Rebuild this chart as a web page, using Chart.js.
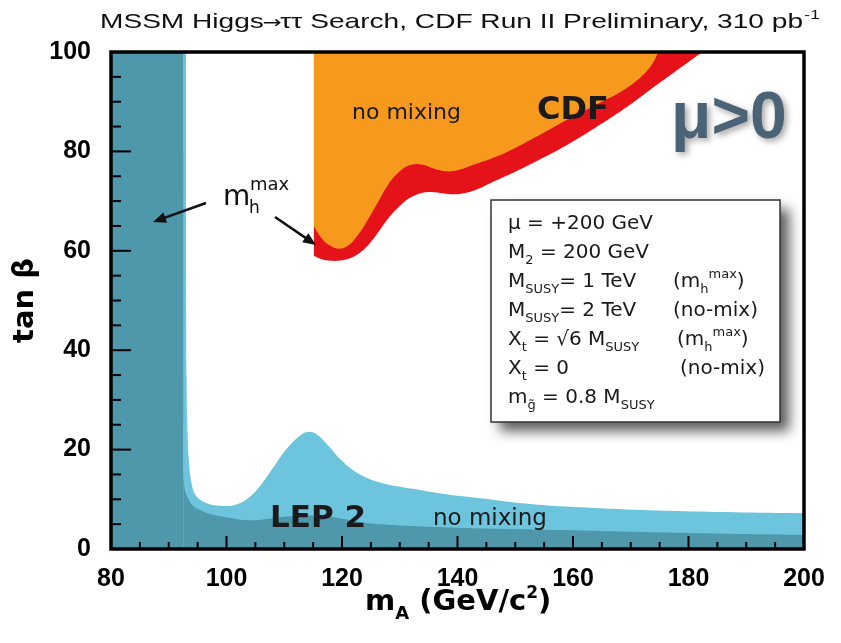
<!DOCTYPE html>
<html><head><meta charset="utf-8">
<script src="https://cdn.jsdelivr.net/npm/chart.js@4/dist/chart.umd.min.js"></script>
<style>html,body{margin:0;padding:0;background:#fff}#wrap{width:841px;height:643px;position:relative}</style>
</head><body><div id="wrap"><canvas id="c"></canvas></div>
<script>
// ---- axes ----
const xTickValues = [80, 100, 120, 140, 160, 180, 200];
const yTickValues = [0, 20, 40, 60, 80, 100];
const minorStep = 5;

// ---- LEP 2, m_h^max scenario (dark teal): vertical band + lower curve ----
const lepMaxBandX = [80, 92.5];
const lepMaxBandY = [100, 100];
const lepMaxX = [92.5, 92.5, 92.7, 93.3, 94.2, 95.5, 97, 99, 101, 103.5, 106, 108.5, 111, 113.5, 116, 118.5, 121, 124, 128, 133, 140, 150, 165, 180, 200];
const lepMaxY = [100, 20, 12.5, 10.3, 8.7, 7.8, 7.1, 6.6, 6.2, 5.8, 5.9, 6.3, 6.6, 6.8, 6.7, 6.4, 5.9, 5.3, 4.9, 4.6, 4.3, 4.0, 3.6, 3.2, 2.8];

// ---- LEP 2, no mixing (light blue) ----
const lepNoMixBandX = [80, 93.0];
const lepNoMixBandY = [100, 100];
const lepNoMixX = [93.0, 93.1, 93.25, 93.5, 94.0, 94.8, 96.6, 98.9, 101.2, 103.5, 105.8, 108.1, 110.4, 112.7, 114.2, 115.6, 117.4, 119.7, 122.5, 126.6, 132.3, 138, 144, 153, 164.7, 176.2, 188, 200];
const lepNoMixY = [100, 34, 24, 17.4, 13.0, 10.6, 9.2, 8.7, 8.8, 10, 12.7, 16.4, 20.1, 22.8, 23.6, 23.1, 21.1, 18.1, 15.4, 13.4, 12.1, 11.0, 10.2, 9.0, 8.2, 7.7, 7.4, 7.2];

// ---- CDF, m_h^max (red) lower boundary ----
const cdfMaxX = [115.1, 116.5, 118, 120, 122, 124, 126, 128, 130, 132, 134, 136, 138, 140, 143, 146, 150, 155, 160, 165, 170, 175, 180, 182.4];
const cdfMaxY = [59.0, 58.3, 58.0, 58.1, 58.8, 60.5, 63.3, 66.5, 69.0, 70.8, 71.7, 71.8, 71.5, 71.4, 72.2, 73.8, 75.9, 78.8, 82, 85.6, 89.5, 93.8, 98, 100];

// ---- CDF, no mixing (orange) lower boundary ----
const cdfNoMixX = [115.1, 116.5, 118, 119.5, 121, 122.5, 124, 126, 128, 130, 132, 134, 136, 138, 140, 143, 146, 150, 155, 160, 165, 168, 171, 173.5, 174.8];
const cdfNoMixY = [65, 62.5, 61, 60.4, 61, 62.8, 65.3, 69.3, 73.3, 76, 77.3, 77.3, 76.5, 76, 76.2, 77.4, 78.6, 80.7, 83.8, 87, 90, 91.8, 94.2, 97.2, 100];

const COL_DARK = '#4f97aa', COL_LIGHT = '#6cc5dd', COL_ORANGE = '#f7991d', COL_RED = '#e6121a';

const pts = (xs, ys) => xs.map((x, i) => ({x, y: ys[i]}));
function area(label, xs, ys, color, fill, tension, order) {
  return {label, data: pts(xs, ys), backgroundColor: color, borderColor: color, borderWidth: 0,
    pointRadius: 0, fill, tension, order, showLine: true};
}

function rich(ctx, x, y, parts, family) {
  for (const p of parts) {
    ctx.font = (p.b ? 'bold ' : '') + p.s + 'px ' + (family || '"DejaVu Sans"');
    ctx.fillText(p.t, x, y + (p.dy || 0));
    x += ctx.measureText(p.t).width;
  }
  return x;
}
function arrow(ctx, x1, y1, x2, y2) {
  const a = Math.atan2(y2 - y1, x2 - x1), L = 13, W = 5.5;
  ctx.beginPath(); ctx.moveTo(x1, y1); ctx.lineTo(x2 - L * 0.7 * Math.cos(a), y2 - L * 0.7 * Math.sin(a)); ctx.stroke();
  ctx.beginPath(); ctx.moveTo(x2, y2);
  ctx.lineTo(x2 - L * Math.cos(a) - W * Math.sin(a), y2 - L * Math.sin(a) + W * Math.cos(a));
  ctx.lineTo(x2 - L * Math.cos(a) + W * Math.sin(a), y2 - L * Math.sin(a) - W * Math.cos(a));
  ctx.closePath(); ctx.fill();
}

const decor = {
  id: 'decor',
  afterDatasetsDraw(chart) {
    const ctx = chart.ctx, a = chart.chartArea, xs = chart.scales.x, ys = chart.scales.y;
    ctx.save();
    ctx.strokeStyle = '#000'; ctx.lineWidth = 2;
    for (let v = xs.min; v <= xs.max; v += minorStep) {
      const px = xs.getPixelForValue(v), len = xTickValues.includes(v) ? 13 : 7;
      ctx.beginPath(); ctx.moveTo(px, a.bottom); ctx.lineTo(px, a.bottom - len); ctx.stroke();
    }
    for (let v = ys.min; v <= ys.max; v += minorStep) {
      const py = ys.getPixelForValue(v), len = yTickValues.includes(v) ? 20 : 10;
      ctx.beginPath(); ctx.moveTo(a.left, py); ctx.lineTo(a.left + len, py); ctx.stroke();
    }
    ctx.lineWidth = 3.5;
    ctx.strokeRect(a.left, a.top, a.right - a.left, a.bottom - a.top);
    ctx.restore();
  },
  afterDraw(chart) {
    const ctx = chart.ctx;
    ctx.save();
    ctx.textBaseline = 'alphabetic'; ctx.textAlign = 'left'; ctx.fillStyle = '#111';
    // title
    ctx.save(); ctx.translate(100, 28);
    const titleParts = [
      {t: 'MSSM Higgs', f: '"Liberation Sans"'},
      {t: '\u2192', f: '"DejaVu Sans"', sz: 17, dx: -1},
      {t: '\u03c4\u03c4 Search, CDF Run II Preliminary, 310 pb', f: '"Liberation Sans"'}
    ];
    let tw = 0;
    for (const p of titleParts) { ctx.font = (p.sz || 21) + 'px ' + p.f; tw += ctx.measureText(p.t).width + (p.dx || 0) * 2; }
    const sx = 703 / tw;
    ctx.scale(sx, 1);
    let cx = 0;
    for (const p of titleParts) {
      ctx.font = (p.sz || 21) + 'px ' + p.f; cx += (p.dx || 0);
      ctx.fillText(p.t, cx, 0); cx += ctx.measureText(p.t).width + (p.dx || 0);
    }
    ctx.font = '13px "Liberation Sans"'; ctx.fillText('-1', cx + 1, -9);
    ctx.restore();

    // region labels
    ctx.fillStyle = '#1a1a1a';
    ctx.font = '22px "DejaVu Sans"'; ctx.fillText('no mixing', 352, 119);
    ctx.font = 'bold 32px "DejaVu Sans"'; ctx.fillText('CDF', 537, 119);
    ctx.font = 'bold 31px "DejaVu Sans"'; ctx.fillText('LEP 2', 270, 527);
    ctx.font = '23px "DejaVu Sans"'; ctx.fillText('no mixing', 433, 525);

    // mu>0
    ctx.save();
    ctx.shadowColor = 'rgba(0,0,0,0.35)'; ctx.shadowBlur = 6; ctx.shadowOffsetX = 3; ctx.shadowOffsetY = 3;
    ctx.fillStyle = '#4b6376'; ctx.font = 'bold 66px "Liberation Sans"';
    ctx.fillText('\u03bc>0', 671, 138);
    ctx.restore();

    // m_h^max label + arrows
    ctx.fillStyle = '#111';
    rich(ctx, 223, 205, [{t: 'm', s: 28}]);
    rich(ctx, 249, 213, [{t: 'h', s: 17}]);
    rich(ctx, 250, 190, [{t: 'max', s: 18}]);
    ctx.strokeStyle = '#111'; ctx.lineWidth = 2.5;
    arrow(ctx, 206, 203, 153, 222);
    arrow(ctx, 275, 217, 316, 245);

    // parameter box
    const bx = 491, by = 200, bw = 289, bh = 222;
    ctx.save();
    ctx.shadowColor = 'rgba(0,0,0,0.65)'; ctx.shadowBlur = 12; ctx.shadowOffsetX = 9; ctx.shadowOffsetY = 9;
    ctx.fillStyle = '#fff'; ctx.fillRect(bx, by, bw, bh);
    ctx.restore();
    ctx.strokeStyle = '#333'; ctx.lineWidth = 1.5; ctx.strokeRect(bx, by, bw, bh);
    ctx.fillStyle = '#1a1a1a';
    const L = 508, b0 = 229, dl = 29, S = 20, s = 13;
    rich(ctx, L, b0, [{t: '\u03bc = +200 GeV', s: S}]);
    rich(ctx, L, b0 + dl, [{t: 'M', s: S}, {t: '2', s: s, dy: 6}, {t: ' = 200 GeV', s: S}]);
    rich(ctx, L, b0 + 2 * dl, [{t: 'M', s: S}, {t: 'SUSY', s: s, dy: 6}, {t: '= 1 TeV', s: S}]);
    rich(ctx, 673, b0 + 2 * dl, [{t: '(m', s: S}, {t: 'h', s: s, dy: 6}, {t: 'max', s: s, dy: -9}, {t: ')', s: S}]);
    rich(ctx, L, b0 + 3 * dl, [{t: 'M', s: S}, {t: 'SUSY', s: s, dy: 6}, {t: '= 2 TeV', s: S}]);
    rich(ctx, 673, b0 + 3 * dl, [{t: '(no-mix)', s: S}]);
    rich(ctx, L, b0 + 4 * dl, [{t: 'X', s: S}, {t: 't', s: s, dy: 6}, {t: ' = \u221a6 M', s: S}, {t: 'SUSY', s: s, dy: 6}]);
    rich(ctx, 677, b0 + 4 * dl, [{t: '(m', s: S}, {t: 'h', s: s, dy: 6}, {t: 'max', s: s, dy: -9}, {t: ')', s: S}]);
    rich(ctx, L, b0 + 5 * dl, [{t: 'X', s: S}, {t: 't', s: s, dy: 6}, {t: ' = 0', s: S}]);
    rich(ctx, 680, b0 + 5 * dl, [{t: '(no-mix)', s: S}]);
    rich(ctx, L, b0 + 6 * dl, [{t: 'm', s: S}, {t: 'g\u0303', s: s, dy: 6}, {t: ' = 0.8 M', s: S}, {t: 'SUSY', s: s, dy: 6}]);

    // x-axis title
    ctx.fillStyle = '#000';
    rich(ctx, 365, 610, [{t: 'm', s: 29, b: 1}, {t: 'A', s: 18, b: 1, dy: 9}, {t: ' (GeV/c', s: 29, b: 1}, {t: '2', s: 17, b: 1, dy: -12}, {t: ')', s: 29, b: 1}]);
    ctx.restore();
  }
};

new Chart(document.getElementById('c'), {
  type: 'scatter',
  data: {
    datasets: [
      area('CDF no mixing', cdfNoMixX, cdfNoMixY, COL_ORANGE, 'end', 0.4, 1),
      area('CDF m_h^max', cdfMaxX, cdfMaxY, COL_RED, 'end', 0.4, 2),
      area('LEP m_h^max band', lepMaxBandX, lepMaxBandY, COL_DARK, 'origin', 0, 3),
      area('LEP m_h^max', lepMaxX, lepMaxY, COL_DARK, 'origin', 0.4, 4),
      area('LEP no mixing band', lepNoMixBandX, lepNoMixBandY, COL_LIGHT, 'origin', 0, 5),
      area('LEP no mixing', lepNoMixX, lepNoMixY, COL_LIGHT, 'origin', 0.4, 6)
    ]
  },
  options: {
    responsive: true, maintainAspectRatio: false, animation: false,
    layout: {padding: {left: 0, right: 37, top: 52, bottom: 0}},
    plugins: {legend: {display: false}, tooltip: {enabled: false}, title: {display: false}},
    scales: {
      x: {
        type: 'linear', min: 80, max: 200,
        afterFit: s => { s.height = 94; },
        afterBuildTicks: s => { s.ticks = xTickValues.map(v => ({value: v})); },
        grid: {display: false}, border: {display: false},
        ticks: {color: '#000', padding: 7, font: {family: '"Liberation Sans"', size: 25, weight: 'bold'}, maxRotation: 0}
      },
      y: {
        type: 'linear', min: 0, max: 100,
        afterFit: s => { s.width = 111; },
        afterBuildTicks: s => { s.ticks = yTickValues.map(v => ({value: v})); },
        grid: {display: false}, border: {display: false},
        ticks: {color: '#000', padding: 12, font: {family: '"Liberation Sans"', size: 25, weight: 'bold'}},
        title: {display: true, text: 'tan \u03b2', color: '#000', padding: {top: 8, bottom: 0},
          font: {family: '"DejaVu Sans"', size: 29, weight: 'bold'}}
      }
    }
  },
  plugins: [decor]
});
</script></body></html>
